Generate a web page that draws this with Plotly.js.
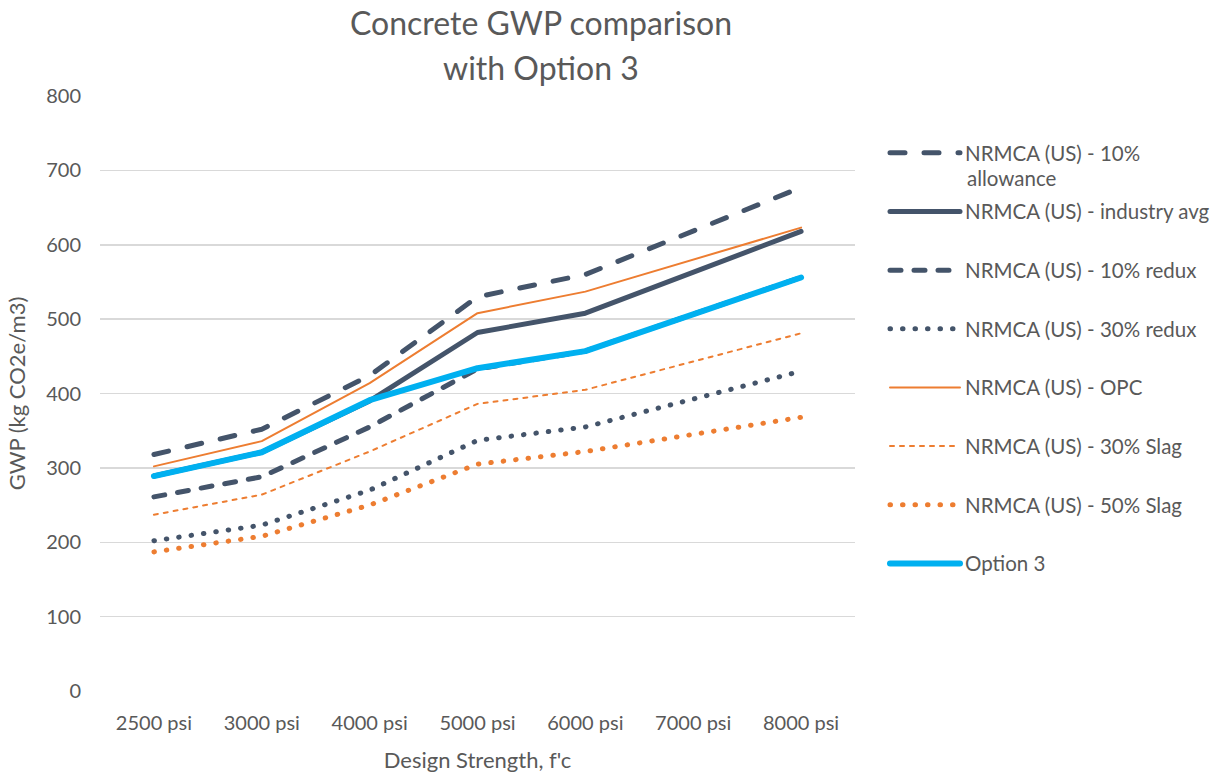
<!DOCTYPE html>
<html>
<head>
<meta charset="utf-8">
<script src="https://cdn.plot.ly/plotly-3.0.1.min.js"></script>
<style>
html,body{margin:0;padding:0;background:#fff;}
path.js-line{stroke-linecap:round;stroke-linejoin:round;}
</style>
</head>
<body>
<div id="chart" style="width:1225px;height:773px;"></div>
<script>
const categories = ["2500 psi", "3000 psi", "4000 psi", "5000 psi", "6000 psi", "7000 psi", "8000 psi"];
const allowance10 = [318, 352, 424, 530, 560, null, 677];
const industryAvg = [289, 321, 390, 482, 508, null, 618];
const redux10 = [261, 288, 355, 433, 457, null, 556];
const redux30 = [202, 223, 270, 337, 355, null, 430];
const opc = [302, 336, 414, 508, 537, null, 623];
const slag30 = [237, 264, 322, 386, 405, null, 481];
const slag50 = [187, 208, 250, 305, 322, null, 368];
const option3 = [289, 321, 391, 434, 457, null, 556];
const yTicks = [0, 100, 200, 300, 400, 500, 600, 700, 800];
const titleLines = ["Concrete GWP comparison", "with Option 3"];

const dark = "#44546A", orange = "#ED7D31", blue = "#00B0F0";
function tr(name, y, color, width, dash, grp) {
  return {x: categories, y: y, name: name, type: "scatter", mode: "lines",
    connectgaps: true, legendgroup: grp, hoverinfo: "skip",
    line: {color: color, width: width, dash: dash}};
}
const data = [
  tr("NRMCA (US) - 10%", allowance10, dark, 5, "15px,19px", "a"),
  tr("NRMCA (US) - industry avg", industryAvg, dark, 5, "solid", "b"),
  tr("NRMCA (US) - 10% redux", redux10, dark, 5, "11px,13px", "c"),
  tr("NRMCA (US) - 30% redux", redux30, dark, 5, "0.5px,12px", "d"),
  tr("NRMCA (US) - OPC", opc, orange, 2, "solid", "e"),
  tr("NRMCA (US) - 30% Slag", slag30, orange, 2, "4px,6px", "f"),
  tr("NRMCA (US) - 50% Slag", slag50, orange, 5, "0.5px,12px", "g"),
  tr("Option 3", option3, blue, 6, "solid", "h")
];
const txt = "#595959";
const L = 100, R = 855, T = 96, B = 691;
const px2x = v => (v - L) / (R - L);
const px2y = v => (B - v) / (B - T);
const layout = {
  width: 1225, height: 773,
  paper_bgcolor: "#fff", plot_bgcolor: "#fff",
  font: {family: "Lato, 'Open Sans', sans-serif", color: txt, size: 20},
  margin: {l: L, r: 1225 - R, t: T, b: 773 - B},
  title: {text: titleLines[0], font: {size: 32, color: txt},
    x: 541/1225, xanchor: "center", xref: "container", yref: "container", y: 1 - 24/773, yanchor: "middle"},
  annotations: [
    {text: titleLines[1], xref: "paper", yref: "paper", x: px2x(541), y: px2y(68),
      xanchor: "center", yanchor: "middle", showarrow: false, font: {size: 32, color: txt}},
    {text: "allowance", xref: "paper", yref: "paper", x: px2x(965), y: px2y(178),
      xanchor: "left", yanchor: "middle", showarrow: false, font: {size: 20.5, color: txt}}
  ],
  xaxis: {type: "category", categoryorder: "array", categoryarray: categories, range: [-0.5, 6.5],
    showgrid: false, zeroline: false, showline: false, ticks: "", automargin: false,
    ticklabelstandoff: 18, tickfont: {size: 20, color: txt},
    title: {text: "Design Strength, f'c", font: {size: 22, color: txt}, standoff: 20}},
  yaxis: {range: [0, 800], tickvals: yTicks, showgrid: true, gridcolor: "#D9D9D9", gridwidth: 1.5,
    zeroline: false, showline: false, ticks: "", ticklabelstandoff: 18, automargin: false,
    tickfont: {size: 20, color: txt},
    title: {text: "GWP (kg CO2e/m3)", font: {size: 22, color: txt}, standoff: 14}},
  showlegend: true,
  legend: {xref: "container", yref: "container", x: 885/1225, y: 1 - 133/773,
    xanchor: "left", yanchor: "top", font: {size: 20.5, color: txt}, maxheight: 700,
    tracegroupgap: 29, itemwidth: 70, bgcolor: "rgba(0,0,0,0)", traceorder: "grouped"}
};
Plotly.newPlot("chart", data, layout, {displayModeBar: false, staticPlot: true});
</script>
</body>
</html>
